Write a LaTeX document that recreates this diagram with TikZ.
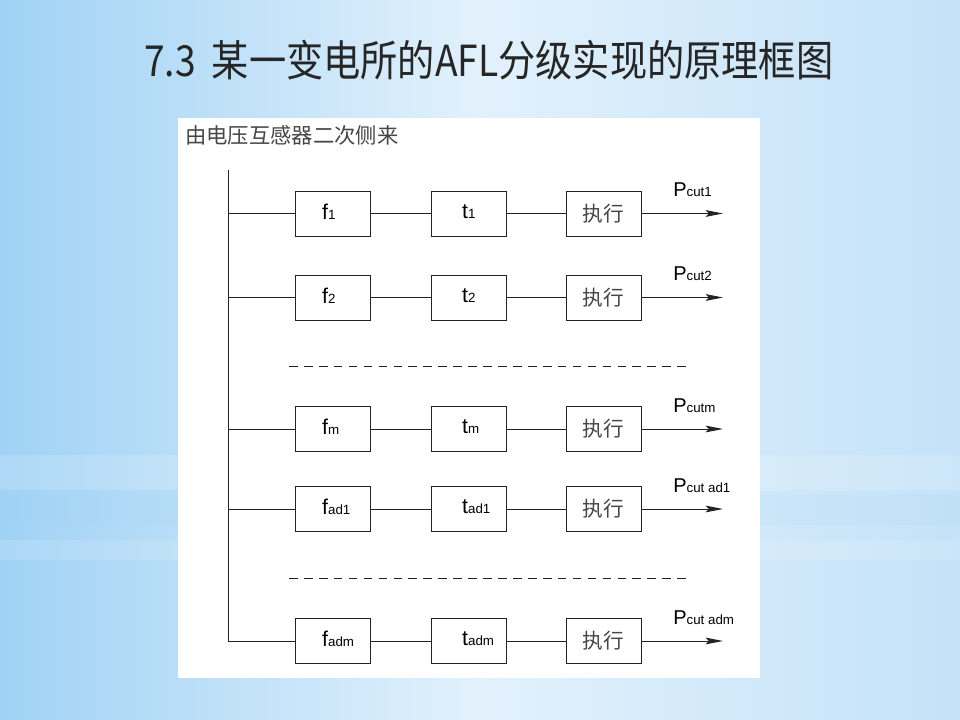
\documentclass[tikz,border=0pt]{standalone}
\usepackage{fontspec}
\setmainfont{Liberation Sans}
\newfontfamily\cjk{Noto Sans CJK SC}
\usetikzlibrary{arrows.meta}

\definecolor{bgblue}{RGB}{160,210,245}
\definecolor{bgpale}{RGB}{226,241,252}
\definecolor{bgright}{RGB}{196,226,248}
\definecolor{inkgray}{RGB}{35,35,35}
\definecolor{txtgray}{RGB}{70,70,70}

% big letter + small index on the same baseline
\newcommand{\varlbl}[2]{#1{\fontsize{10}{10}\selectfont #2}}

\begin{document}
\begin{tikzpicture}[x=0.75pt, y=-0.75pt, >={Stealth[length=13pt, width=5pt, inset=2.5pt]},
  wire/.style={draw=inkgray, line width=0.65pt},
  blk/.style={draw=inkgray, line width=0.65pt, fill=white, minimum width=56.25pt,
    minimum height=33.75pt, inner sep=0pt},
  varblk/.style={blk, text width=56.25pt, align=left, font=\fontsize{16}{16}\selectfont},
  execblk/.style={blk, font=\cjk\fontsize{15.5}{16}\selectfont, text=txtgray},
  plbl/.style={anchor=base west, inner sep=0pt, font=\fontsize{15}{15}\selectfont}]

  % ---------- Background ----------
  \useasboundingbox (0,0) rectangle (960,720);
  \shade[left color=bgblue, right color=bgright, middle color=bgpale] (0,0) rectangle (960,720);
  \fill[white, opacity=0.15] (0,455) rectangle (960,490);
  \fill[bgblue, opacity=0.10] (0,495) rectangle (960,525);
  \fill[white, opacity=0.12] (0,540) rectangle (960,560);

  % ---------- Title ----------
  \node[anchor=west, inner sep=0pt, text=black!85] (title) at (144,60)
    {\scalebox{1}[1.15]{\cjk\fontsize{27.9}{28}\selectfont 7.3\hspace{12pt}某一变电所的AFL分级实现的原理框图}};

  % ---------- Panel ----------
  \fill[white] (178,118) rectangle (760,678);
  \node[anchor=west, inner sep=0pt, text=txtgray, font=\cjk\fontsize{16}{16}\selectfont] (src)
    at (185,135.5) {由电压互感器二次侧来};

  % ---------- Rows ----------
  \foreach \ry/\s/\p in {213.5/1/cut1, 297.5/2/cut2, 429/m/cutm, 509/ad1/cut ad1, 641/adm/cut adm} {
    \coordinate (bus\s) at (228,\ry);
    \coordinate (out\s) at (723,\ry);
    \node[varblk] (f\s) at (333,\ry) {\hspace*{20pt}\raisebox{3pt}{\varlbl{f}{\s}}};
    \node[varblk] (t\s) at (469,\ry) {\hspace*{23pt}\raisebox{3pt}{\varlbl{t}{\s}}};
    \node[execblk] (x\s) at (603.5,\ry) {执行};
    \node[plbl] (p\s) at (673,\ry-17) {P{\fontsize{10}{10}\selectfont\p}};
    \draw[wire] (bus\s) -- (f\s);
    \draw[wire] (f\s) -- (t\s);
    \draw[wire] (t\s) -- (x\s);
    \draw[wire, ->] (x\s) -- (out\s);
  }

  % bus from the voltage transformer
  \coordinate (bustop) at (228,170);
  \draw[wire] (bustop) -- (busadm);

  % ---------- Gaps ----------
  \coordinate (gapA1) at (289,366);
  \coordinate (gapA2) at (692,366);
  \coordinate (gapB1) at (289,578);
  \coordinate (gapB2) at (692,578);
  \draw[wire, dash pattern=on 6.5pt off 4.7pt] (gapA1) -- (gapA2);
  \draw[wire, dash pattern=on 6.5pt off 4.7pt] (gapB1) -- (gapB2);

\end{tikzpicture}
\end{document}
